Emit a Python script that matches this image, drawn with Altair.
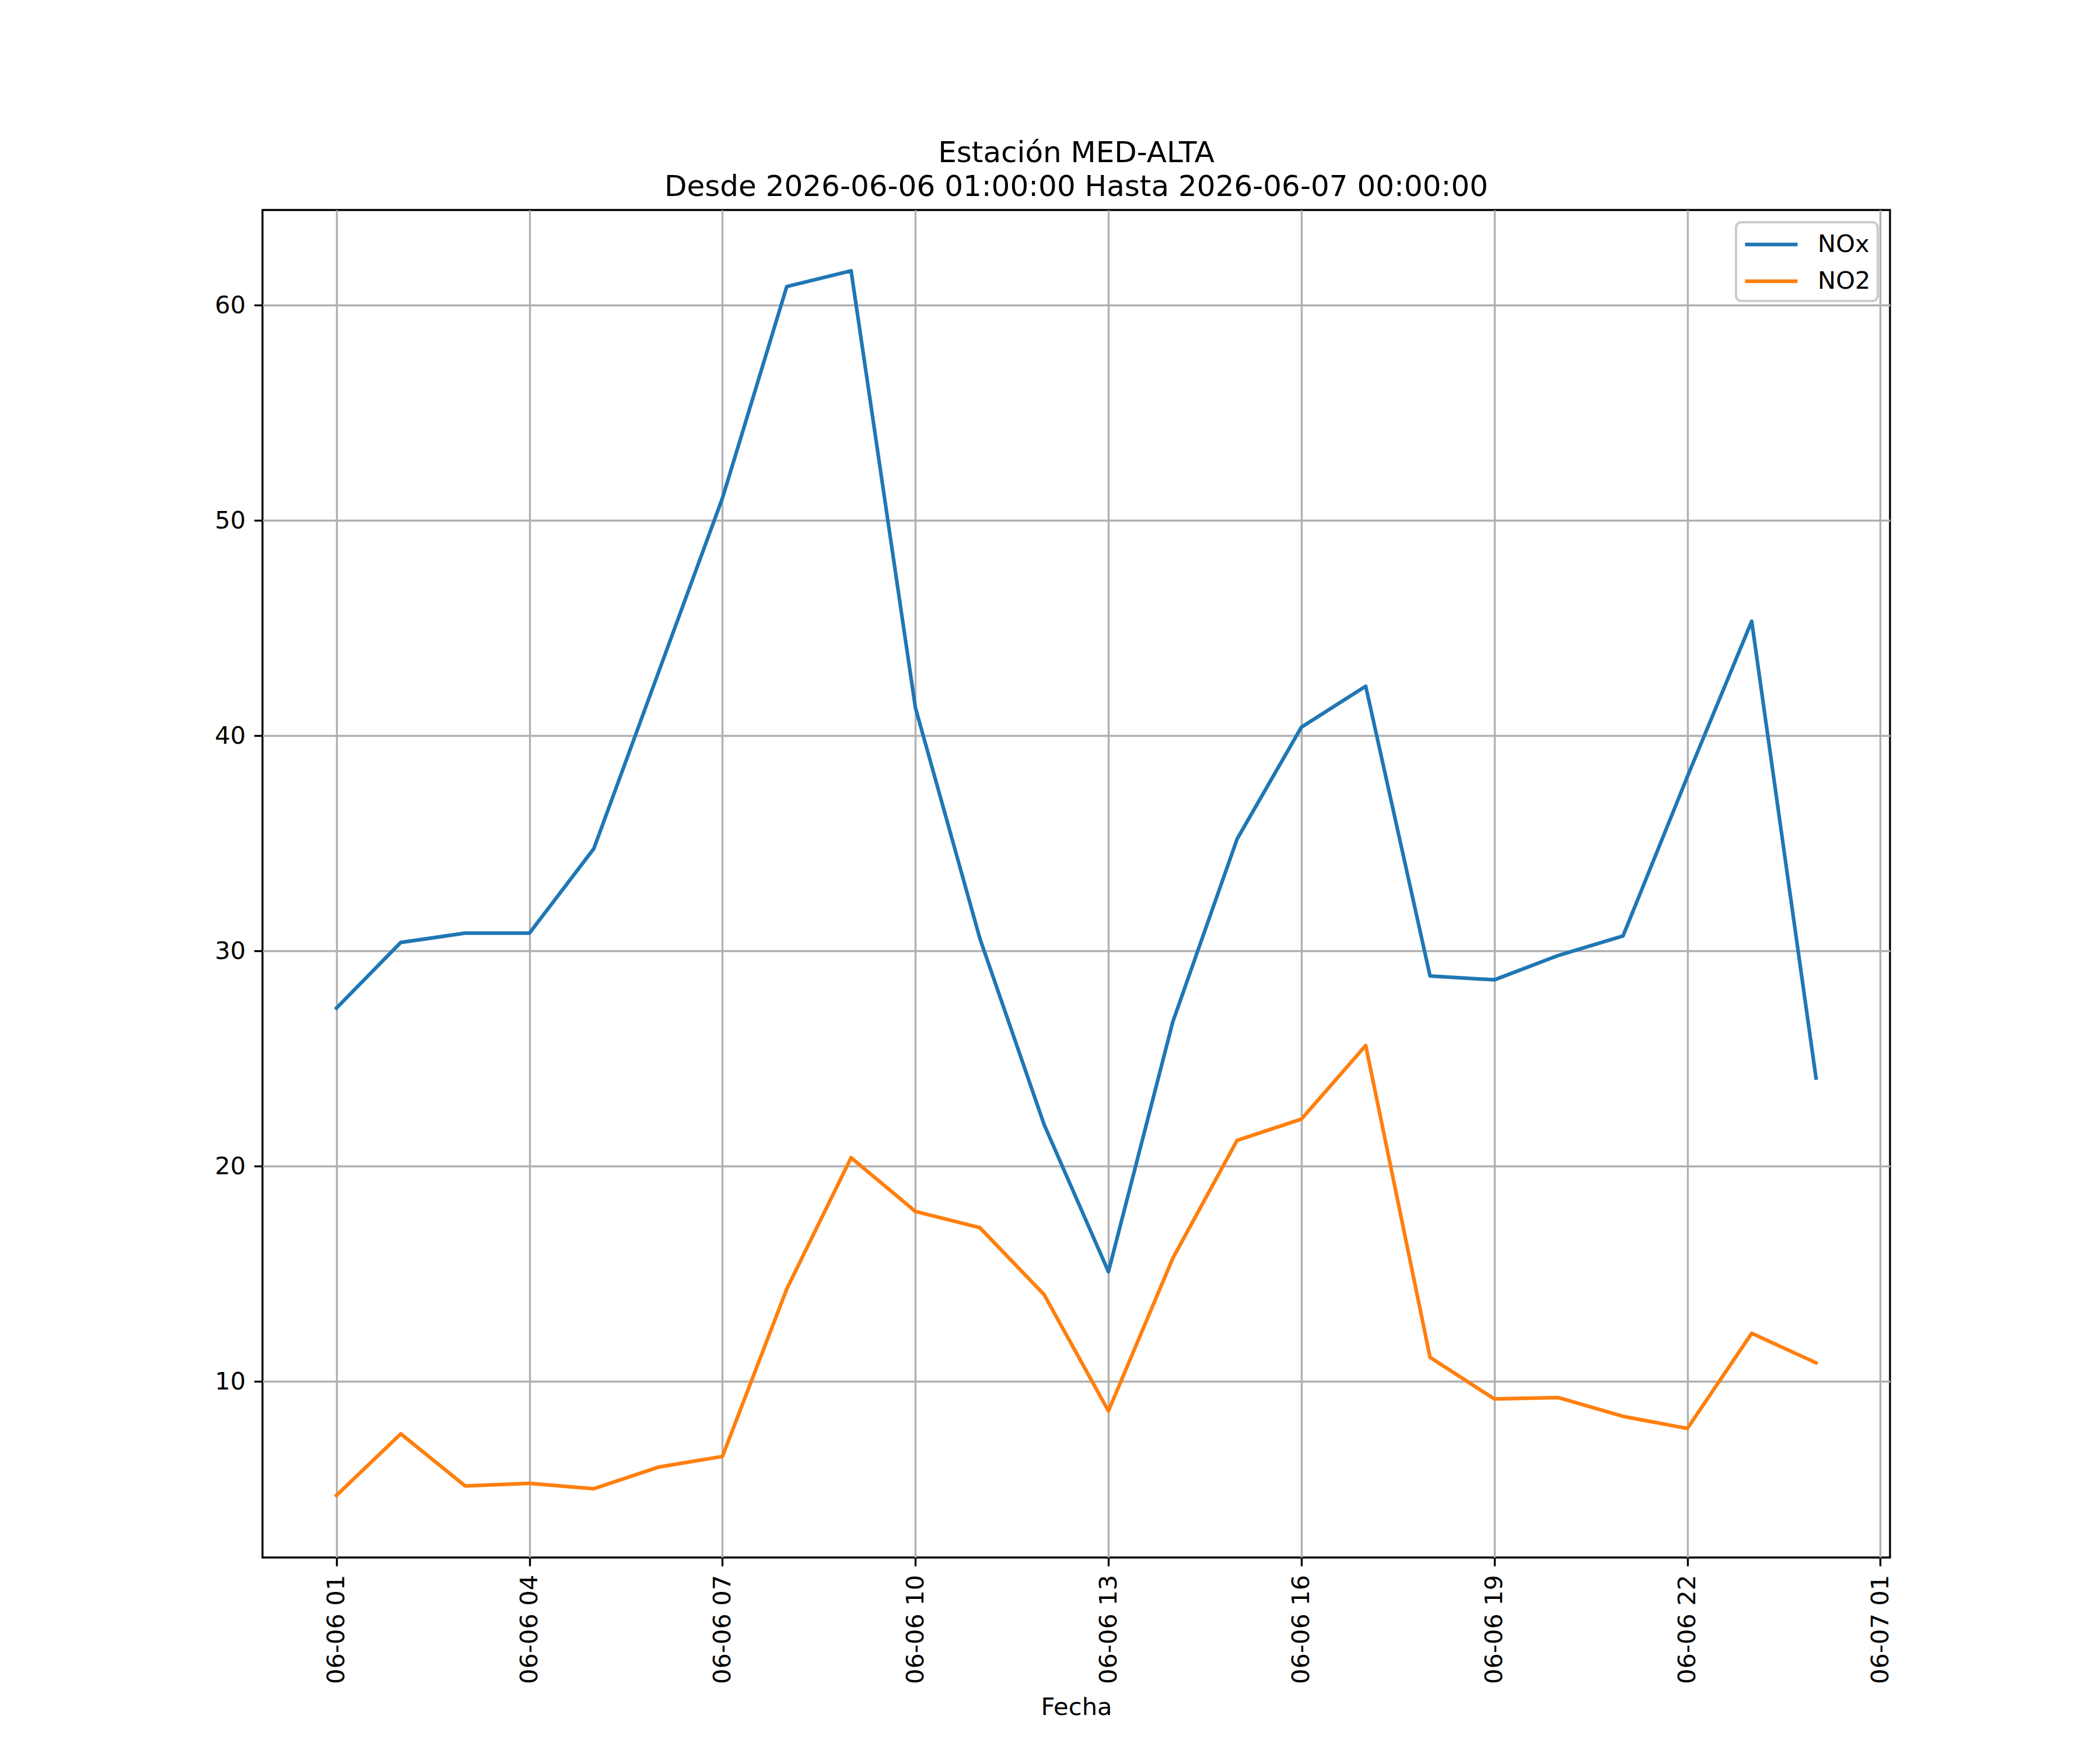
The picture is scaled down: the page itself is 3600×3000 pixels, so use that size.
import altair as alt
import pandas as pd

# ---- data ----
times = [
    "2026-06-06T01:00:00", "2026-06-06T02:00:00", "2026-06-06T03:00:00",
    "2026-06-06T04:00:00", "2026-06-06T05:00:00", "2026-06-06T06:00:00",
    "2026-06-06T07:00:00", "2026-06-06T08:00:00", "2026-06-06T09:00:00",
    "2026-06-06T10:00:00", "2026-06-06T11:00:00", "2026-06-06T12:00:00",
    "2026-06-06T13:00:00", "2026-06-06T14:00:00", "2026-06-06T15:00:00",
    "2026-06-06T16:00:00", "2026-06-06T17:00:00", "2026-06-06T18:00:00",
    "2026-06-06T19:00:00", "2026-06-06T20:00:00", "2026-06-06T21:00:00",
    "2026-06-06T22:00:00", "2026-06-06T23:00:00", "2026-06-07T00:00:00",
]
nox = [27.35, 30.4, 30.83, 30.83, 34.75, 42.9, 51.04, 60.87, 61.6, 41.3,
       30.6, 21.94, 15.1, 26.7, 35.2, 40.4, 42.3, 28.84, 28.66, 29.8,
       30.7, 38.1, 45.32, 24.1]
no2 = [4.71, 7.57, 5.15, 5.27, 5.02, 6.02, 6.52, 14.3, 20.4, 17.9,
       17.15, 14.04, 8.63, 15.72, 21.2, 22.19, 25.61, 11.12, 9.19, 9.25,
       8.38, 7.82, 12.24, 10.87]
series_names = ["NOx", "NO2"]
series_colors = ["#1f77b4", "#ff7f0e"]
y_ticks = [10, 20, 30, 40, 50, 60]
x_tick_hours = [(6, 1), (6, 4), (6, 7), (6, 10), (6, 13), (6, 16),
                (6, 19), (6, 22), (7, 1)]
title_lines = ["Estación MED-ALTA",
               "Desde 2026-06-06 01:00:00 Hasta 2026-06-07 00:00:00"]

df = pd.DataFrame({
    "Fecha": times * 2,
    "serie": ["NOx"] * len(nox) + ["NO2"] * len(no2),
    "valor": nox + no2,
})

FONT = "DejaVu Sans"
PX = 300 / 72.0  # points -> pixels at 300 dpi
FS = 10 * PX

x_values = [alt.DateTime(year=2026, month=6, date=d, hours=h) for d, h in x_tick_hours]
x_domain = [alt.DateTime(year=2026, month=6, date=5, hours=23, minutes=51),
            alt.DateTime(year=2026, month=6, date=7, hours=1, minutes=9)]

chart = alt.Chart(df).mark_line(
    strokeWidth=1.5 * PX, strokeJoin="round", strokeCap="square"
).encode(
    x=alt.X("Fecha:T",
            scale=alt.Scale(domain=x_domain),
            axis=alt.Axis(values=x_values, format="%m-%d %H", labelAngle=270,
                          labelFontSize=FS, labelPadding=3.5 * PX, labelLimit=1000,
                          tickSize=3.5 * PX, tickWidth=0.8 * PX,
                          title="Fecha", titleFontSize=FS, titleFontWeight="normal",
                          titlePadding=36, labelFlush=False, labelOverlap=False)),
    y=alt.Y("valor:Q",
            scale=alt.Scale(domain=[1.824, 64.425], nice=False, zero=False),
            axis=alt.Axis(values=y_ticks, labelFontSize=FS, labelPadding=3.5 * PX,
                          tickSize=3.5 * PX, tickWidth=0.8 * PX, title=None,
                          labelOverlap=False, labelFlush=False)),
    color=alt.Color("serie:N",
                    scale=alt.Scale(domain=series_names, range=series_colors),
                    sort=series_names,
                    legend=alt.Legend(title=None, orient="top-right", offset=21,
                                      symbolType="M-1,0H3", symbolSize=2025,
                                      symbolStrokeWidth=1.5 * PX,
                                      labelFontSize=FS, labelOffset=76,
                                      padding=12, rowPadding=15,
                                      strokeColor="#cccccc", fillColor="white",
                                      cornerRadius=9, labelColor="black")),
).properties(
    width=2790,
    height=2310,
    title=alt.TitleParams(text=title_lines, fontSize=12 * PX, fontWeight="normal",
                          anchor="middle", frame="group", lineHeight=58,
                          baseline="bottom", offset=-36, color="black"),
    autosize=alt.AutoSizeParams(type="none"),
    padding={"left": 442, "top": 352, "right": 352, "bottom": 322},
).configure(
    font=FONT,
).configure_view(
    stroke="black", strokeWidth=0.8 * PX,
).configure_axis(
    domain=False, grid=True, gridColor="#b0b0b0", gridWidth=0.8 * PX, gridOpacity=1,
    tickColor="black", labelColor="black", titleColor="black",
    labelFont=FONT, titleFont=FONT,
).configure_legend(
    labelFont=FONT, strokeWidth=1.0 * PX,
)

chart.save("out.html", embed_options={"renderer": "svg", "actions": False})
